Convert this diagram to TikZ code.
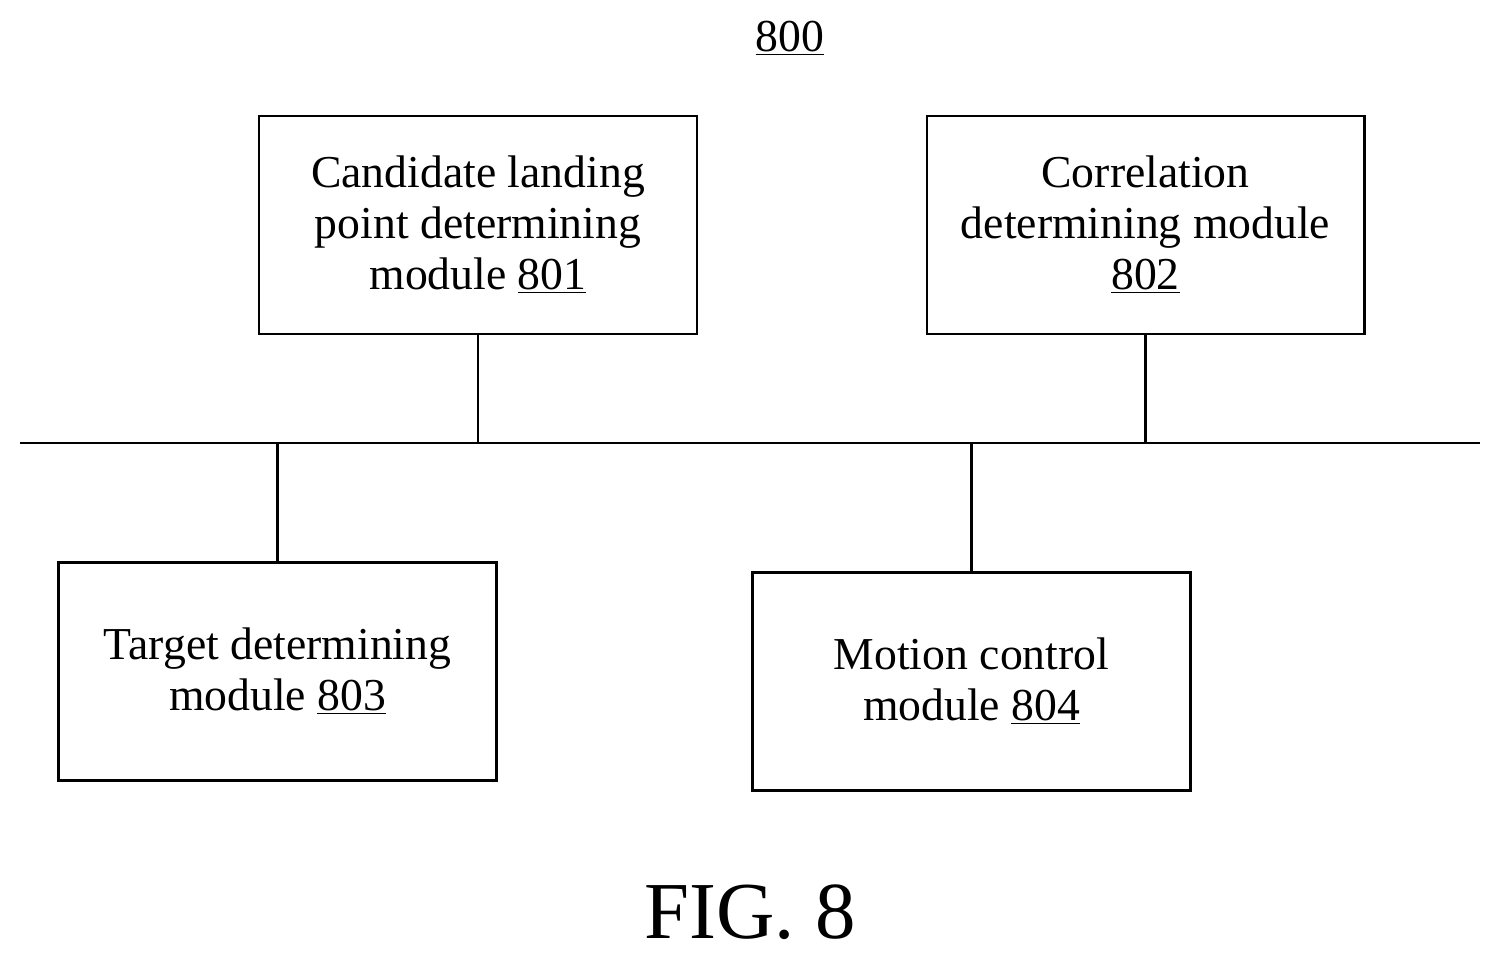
\documentclass[tikz,border=0pt]{standalone}
\usepackage{fontspec}
\setmainfont{Liberation Serif}
\usetikzlibrary{positioning}

\begin{document}
\begin{tikzpicture}[x=0.02cm,y=-0.02cm,
                    module/.style={draw,line width=1.2pt,minimum width=8.76cm,minimum height=4.36cm,
                                   align=center,font=\fontsize{26}{29}\selectfont},
                    bus/.style={line width=1.2pt}]
    \useasboundingbox (0,0) rectangle (1501,959);
    \node (title) at (790,38) {\fontsize{26}{29}\selectfont\underline{800}};
    \node[module] (cand) at (478,225) {Candidate landing\\point determining\\module \underline{801}};
    \node[module] (corr) at (1145.5,225) {Correlation\\determining module\\\underline{802}};
    \node[module] (targ) at (277.5,671.5) {Target determining\\module \underline{803}};
    \node[module] (motion) at (971.5,681.5) {Motion control\\module \underline{804}};
    \coordinate (busl) at (20,443);
    \coordinate (busr) at (1480,443);
    \draw[bus] (busl) -- (busr);
    \draw[bus] (cand.south) -- (cand.south |- busl);
    \draw[bus] (corr.south) -- (corr.south |- busl);
    \draw[bus] (targ.north) -- (targ.north |- busl);
    \draw[bus] (motion.north) -- (motion.north |- busl);
    \node (fig) at (750,912) {\fontsize{46}{50}\selectfont FIG. 8};
\end{tikzpicture}
\end{document}
